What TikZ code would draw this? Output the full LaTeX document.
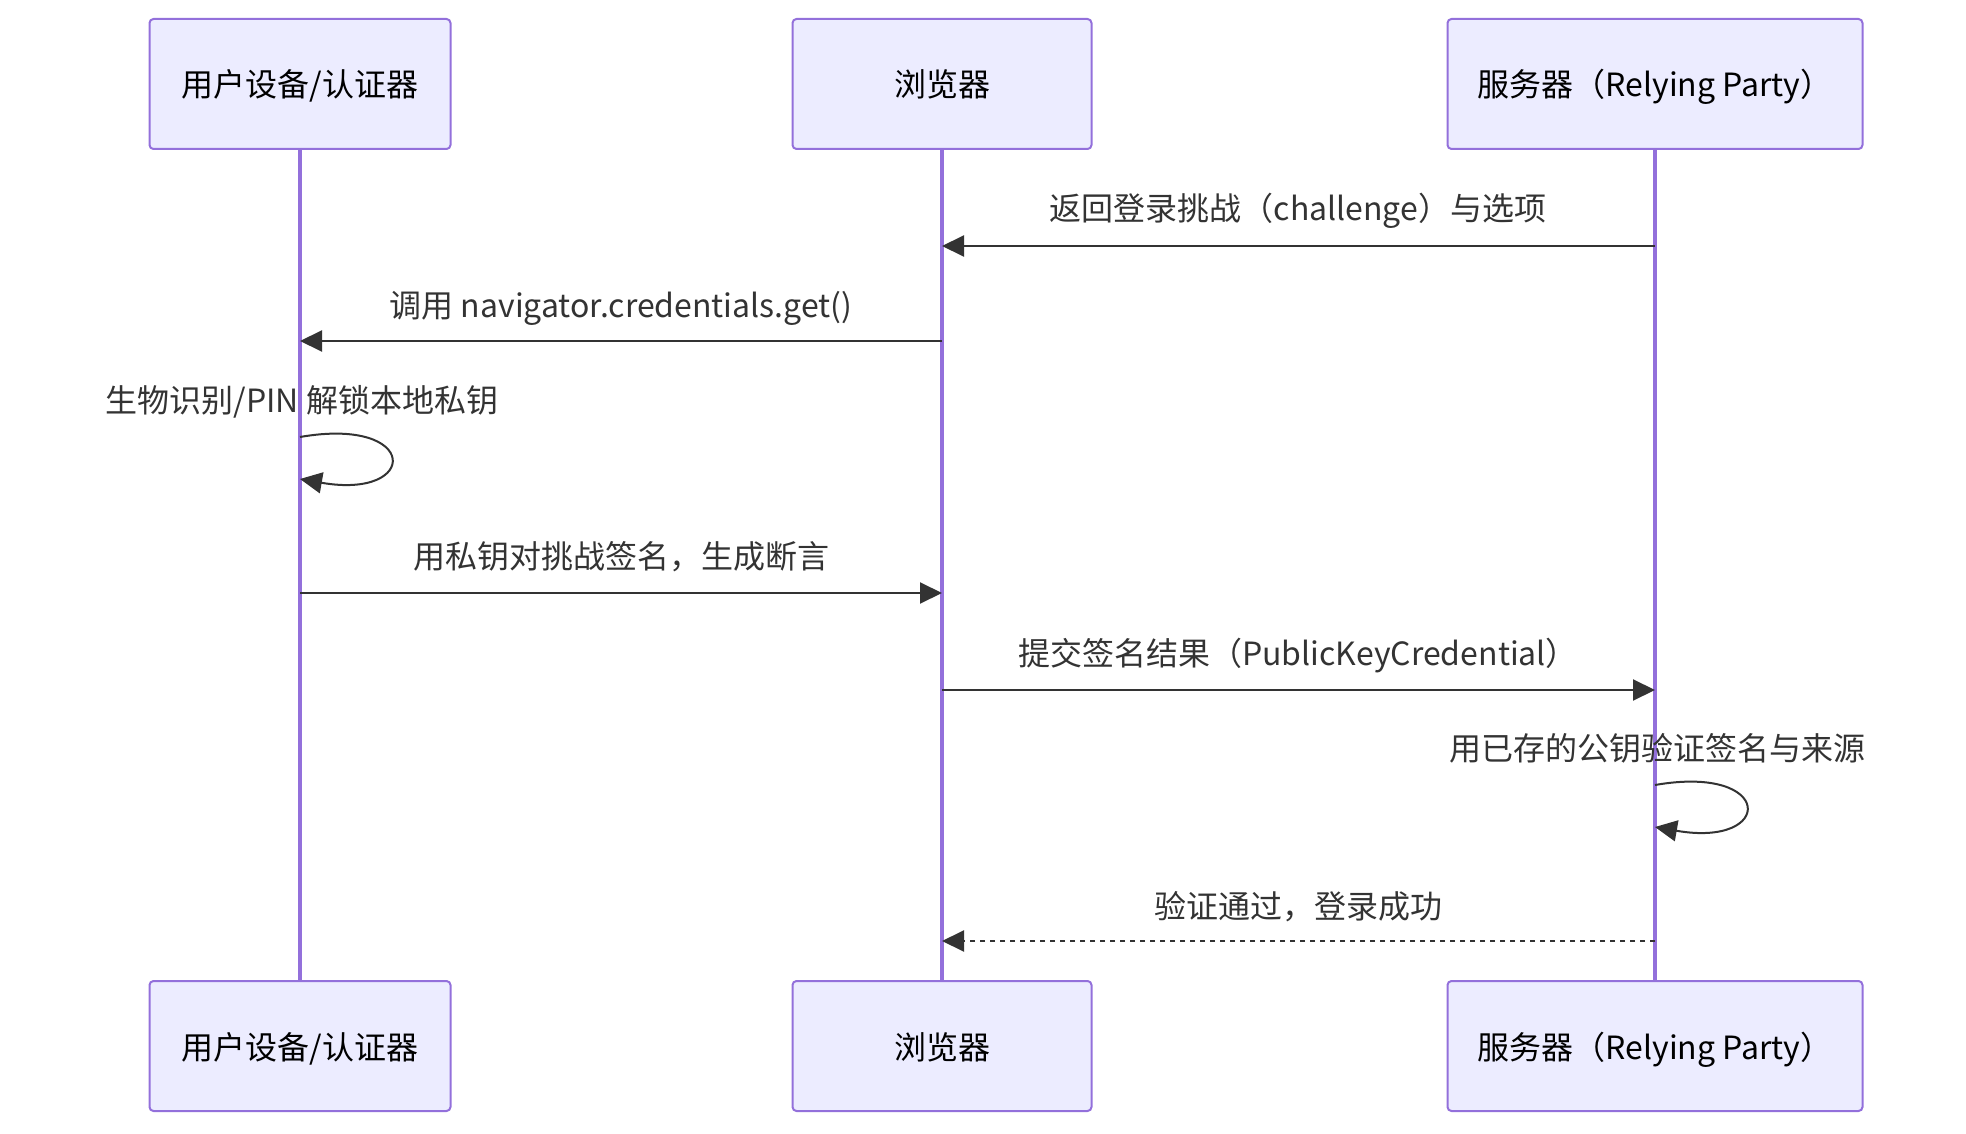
\documentclass[tikz,border=0pt]{standalone}
\usepackage{fontspec}
\setmainfont{Noto Sans CJK SC}
\usetikzlibrary{arrows.meta}
\definecolor{actorfill}{HTML}{ECECFF}
\definecolor{actorline}{HTML}{9370DB}
\definecolor{msgcol}{HTML}{333333}
\tikzset{
  actor/.style={draw=actorline, fill=actorfill, line width=1pt, rounded corners=2pt,
    minimum height=65pt, text height=13pt, text depth=0pt,
    font=\fontsize{16}{19}\selectfont, text=black},
  lifeline/.style={actorline, line width=1.8pt},
  msg/.style={msgcol, line width=1pt, -{Triangle[length=11pt,width=10.5pt]}},
  reply/.style={msg, dash pattern=on 2.5pt off 2.5pt},
  msglabel/.style={text=msgcol, font=\fontsize{16}{19}\selectfont, inner sep=0pt,
    text height=13pt, text depth=0pt},
}
\begin{document}
\begin{tikzpicture}[x=0.5pt, y=-0.5pt]
\useasboundingbox (0,0) rectangle (1966,1134);
% participants
\node[actor, minimum width=150.5pt] (uTop) at (300,84){用户设备/认证器};
\node[actor, minimum width=149.5pt] (bTop) at (942,84){浏览器};
\node[actor, minimum width=207.5pt] (sTop) at (1655,84){服务器（Relying Party）};
\node[actor, minimum width=150.5pt] (uBot) at (300,1046){用户设备/认证器};
\node[actor, minimum width=149.5pt] (bBot) at (942,1046){浏览器};
\node[actor, minimum width=207.5pt] (sBot) at (1655,1046){服务器（Relying Party）};
\draw[lifeline] (uTop.south) -- (uBot.north);
\draw[lifeline] (bTop.south) -- (bBot.north);
\draw[lifeline] (sTop.south) -- (sBot.north);
% messages
\coordinate (m1s) at (1655,246);
\coordinate (m1b) at (942,246);
\node[msglabel] (l1) at (1298,208){返回登录挑战（challenge）与选项};
\draw[msg] (m1s) -- (m1b);
\coordinate (m2b) at (942,341);
\coordinate (m2u) at (300,341);
\node[msglabel] (l2) at (621,305){调用 navigator.credentials.get()};
\draw[msg] (m2b) -- (m2u);
\coordinate (m3a) at (300,437);
\coordinate (m3b) at (300,479);
\node[msglabel] (l3) at (302,400){生物识别/PIN 解锁本地私钥};
\draw[msg] (m3a) .. controls (420,416) and (420,500) .. (m3b);
\coordinate (m4u) at (300,593);
\coordinate (m4b) at (942,593);
\node[msglabel] (l4) at (621,555){用私钥对挑战签名，生成断言};
\draw[msg] (m4u) -- (m4b);
\coordinate (m5b) at (942,690);
\coordinate (m5s) at (1655,690);
\node[msglabel] (l5) at (1298,652){提交签名结果（PublicKeyCredential）};
\draw[msg] (m5b) -- (m5s);
\coordinate (m6a) at (1655,785);
\coordinate (m6b) at (1655,827);
\node[msglabel] (l6) at (1657,747){用已存的公钥验证签名与来源};
\draw[msg] (m6a) .. controls (1775,764) and (1775,848) .. (m6b);
\coordinate (m7s) at (1655,941);
\coordinate (m7b) at (942,941);
\node[msglabel] (l7) at (1298,905){验证通过，登录成功};
\draw[reply] (m7s) -- (m7b);
\end{tikzpicture}
\end{document}
